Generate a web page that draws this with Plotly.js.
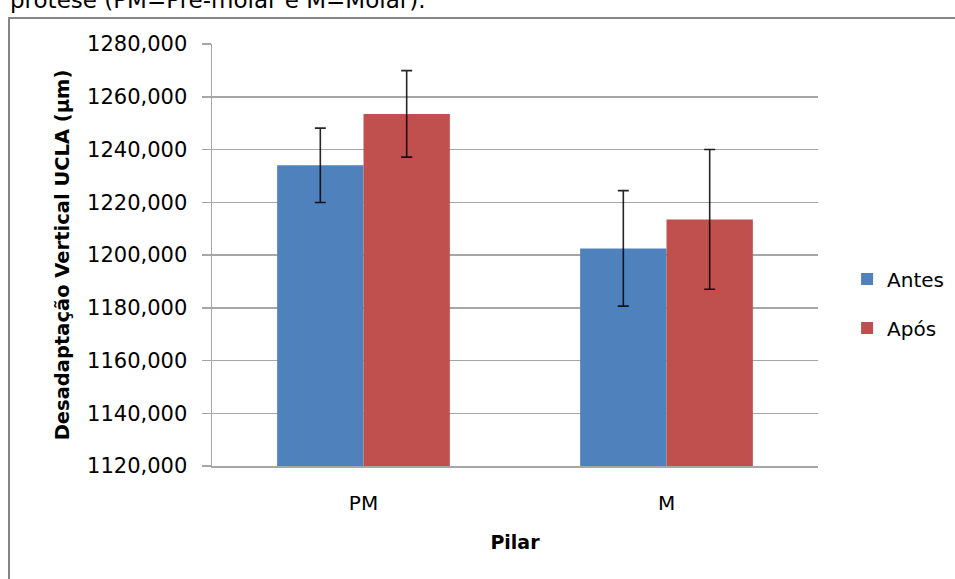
<!DOCTYPE html>
<html>
<head>
<meta charset="utf-8">
<script src="https://cdn.plot.ly/plotly-3.0.1.min.js"></script>
<style>
  html, body { margin:0; padding:0; background:#ffffff; overflow:hidden; width:955px; height:579px; }
  #chart { position:absolute; left:0; top:0; width:955px; height:579px; }
  #frame { position:absolute; left:8px; top:17px; width:980px; height:620px; border:2px solid #868686; box-sizing:border-box; pointer-events:none; }
  #caption { position:absolute; left:10px; top:-11px; font-family:"DejaVu Sans", Verdana, sans-serif; font-size:23px; line-height:23px; color:#000; white-space:nowrap; }
</style>
</head>
<body>
<div id="caption">prótese (PM=Pré-molar e M=Molar).</div>
<div id="chart"></div>
<div id="frame"></div>
<script>
const categories = ["PM", "M"];
const seriesNames = ["Antes", "Após"];
const antes = [1234.0, 1202.5];
const apos = [1253.5, 1213.5];
const antesErr = [14.1, 21.9];
const aposErr = [16.4, 26.5];
const yTickVals = [1120, 1140, 1160, 1180, 1200, 1220, 1240, 1260, 1280];

const FONT = '"DejaVu Sans", Verdana, sans-serif';
const errStyle = { type: 'data', visible: true, color: 'rgba(0,0,0,0.85)', thickness: 1.6, width: 5.5 };

const traces = [
  {
    type: 'bar', name: seriesNames[0], x: categories, y: antes,
    marker: { color: '#4f81bd' },
    error_y: Object.assign({ array: antesErr }, errStyle),
    legendgroup: 'a'
  },
  {
    type: 'bar', name: seriesNames[1], x: categories, y: apos,
    marker: { color: '#c0504d' },
    error_y: Object.assign({ array: aposErr }, errStyle),
    legendgroup: 'b'
  }
];

const layout = {
  width: 955, height: 579,
  margin: { l: 212, r: 137, t: 44, b: 113, pad: 0, autoexpand: false },
  paper_bgcolor: 'rgba(0,0,0,0)',
  plot_bgcolor: 'rgba(0,0,0,0)',
  separators: ',.',
  font: { family: FONT, size: 20, color: '#000' },
  barmode: 'group',
  bargap: 0.43,
  bargroupgap: 0,
  showlegend: true,
  legend: {
    x: 1.048, y: 0.385, xanchor: 'left', yanchor: 'middle',
    font: { family: FONT, size: 20, color: '#000' },
    traceorder: 'grouped', tracegroupgap: 20,
    bgcolor: 'rgba(0,0,0,0)', itemwidth: 30
  },
  xaxis: {
    type: 'category',
    showline: true, linecolor: '#a6a6a6', linewidth: 1.5,
    ticks: '', showgrid: false,
    ticklabelstandoff: 18,
    tickfont: { family: FONT, size: 20, color: '#000' },
    title: { text: '<b>Pilar</b>', font: { family: FONT, size: 19, color: '#000' }, standoff: 22 }
  },
  yaxis: {
    range: [1120, 1280],
    tickvals: yTickVals,
    tickformat: '.3f',
    showline: true, linecolor: '#a6a6a6', linewidth: 1.5,
    ticks: 'outside', ticklen: 9, tickcolor: '#a6a6a6', tickwidth: 1.5,
    ticklabelstandoff: 10,
    showgrid: true, gridcolor: '#a6a6a6', gridwidth: 1.5,
    zeroline: false,
    tickfont: { family: FONT, size: 21, color: '#000' },
    title: { text: '<b>Desadaptação Vertical UCLA (µm)</b>', font: { family: FONT, size: 19.5, color: '#000' }, standoff: 12 }
  }
};

Plotly.newPlot('chart', traces, layout, { staticPlot: true, displayModeBar: false });
</script>
</body>
</html>
